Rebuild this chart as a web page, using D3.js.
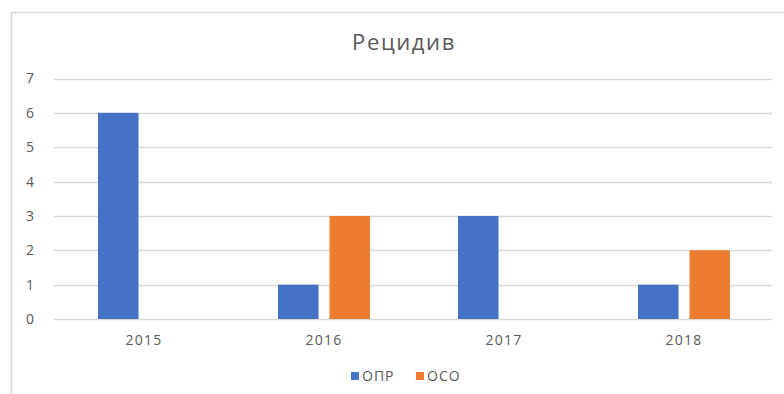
<!DOCTYPE html>
<html>
<head>
<meta charset="utf-8">
<script src="https://cdn.jsdelivr.net/npm/d3@7"></script>
<style>
  html, body { margin: 0; padding: 0; background: #fff; }
  svg { display: block; }
  text { font-family: "Open Sans", "DejaVu Sans", sans-serif; fill: #595959; }
</style>
</head>
<body>
<svg id="chart" width="784" height="394"></svg>
<script>
// Chart data
const chartTitle = "Рецидив";
const years = ["2015", "2016", "2017", "2018"];
const seriesNames = ["ОПР", "ОСО"];
const opr = [6, 1, 3, 1];
const oso = [0, 3, 0, 2];
const yTicks = [0, 1, 2, 3, 4, 5, 6, 7];
const colors = ["#4472C4", "#ED7D31"];

const seriesValues = [opr, oso];
const rows = years.map((y, i) => ({
  year: y,
  values: seriesNames.map((s, k) => ({ name: s, value: seriesValues[k][i], color: colors[k] }))
}));

const svg = d3.select("#chart");

// Chart area frame
svg.append("path")
  .attr("d", "M11.5,394 L11.5,12.5 L784,12.5")
  .attr("fill", "none")
  .attr("stroke", "#d9d9d9")
  .attr("stroke-width", 1.5);

const plot = { left: 54, right: 774, top: 78.5, bottom: 319 };

const y = d3.scaleLinear().domain([0, 7]).range([plot.bottom, plot.top]);
const x0 = d3.scaleBand().domain(years).range([plot.left, plot.right])
  .paddingInner(0.489).paddingOuter(0.2445);
const x1 = d3.scaleBand().domain(seriesNames).range([0, x0.bandwidth()])
  .paddingInner(0.2136);

// Gridlines
svg.append("g")
  .selectAll("line")
  .data(yTicks)
  .join("line")
  .attr("x1", plot.left)
  .attr("x2", plot.right - 2)
  .attr("y1", d => Math.round(y(d)) + 0.5)
  .attr("y2", d => Math.round(y(d)) + 0.5)
  .attr("stroke", "#d9d9d9")
  .attr("stroke-width", 1.3);

// Y axis labels
const yAxis = d3.axisLeft(y).tickValues(yTicks).tickFormat(d3.format("d")).tickSize(0).tickPadding(0);
const gy = svg.append("g").attr("transform", `translate(30,0)`).call(yAxis);
gy.select(".domain").remove();
gy.selectAll("text")
  .attr("text-anchor", "middle")
  .style("font-size", "14px")
  .style("font-family", "\"Open Sans\", sans-serif")
  .attr("fill", "#595959");

// Bars
const groups = svg.append("g")
  .selectAll("g")
  .data(rows)
  .join("g")
  .attr("transform", d => `translate(${x0(d.year)},0)`);

groups.selectAll("rect")
  .data(d => d.values.filter(v => v.value > 0))
  .join("rect")
  .attr("x", d => x1(d.name))
  .attr("width", x1.bandwidth())
  .attr("y", d => y(d.value))
  .attr("height", d => y(0) - y(d.value))
  .attr("fill", d => d.color);

// X axis labels
const xAxis = d3.axisBottom(x0).tickSize(0).tickPadding(0);
const gx = svg.append("g").attr("transform", `translate(0,${plot.bottom + 26})`).call(xAxis);
gx.select(".domain").remove();
gx.selectAll("text")
  .attr("dy", 0)
  .style("font-size", "14px")
  .style("letter-spacing", "1.2px")
  .style("font-family", "\"Open Sans\", sans-serif")
  .attr("fill", "#595959");

// Title
svg.append("text")
  .attr("x", 404)
  .attr("y", 50)
  .attr("text-anchor", "middle")
  .style("font-size", "22px")
  .style("letter-spacing", "1.6px")
  .text(chartTitle);

// Legend
const legendItems = [
  { name: seriesNames[0], color: colors[0], x: 351 },
  { name: seriesNames[1], color: colors[1], x: 416 }
];
const lg = svg.append("g")
  .selectAll("g")
  .data(legendItems)
  .join("g")
  .attr("transform", d => `translate(${d.x},376)`);
lg.append("rect")
  .attr("x", 0).attr("y", -4)
  .attr("width", 8).attr("height", 8)
  .attr("fill", d => d.color);
lg.append("text")
  .attr("x", 11).attr("y", 5)
  .style("font-size", "14px")
  .style("letter-spacing", "1px")
  .text(d => d.name);
</script>
</body>
</html>
